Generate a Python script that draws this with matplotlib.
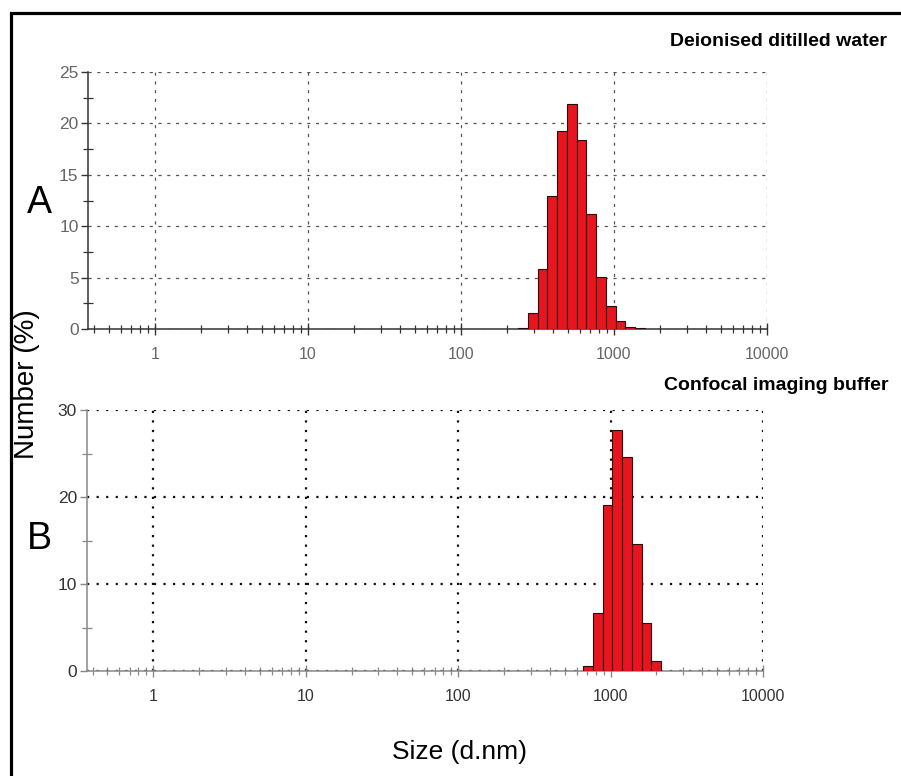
import numpy as np
import matplotlib.pyplot as plt
from matplotlib.patches import Rectangle
from matplotlib.ticker import LogLocator, MultipleLocator, FixedLocator

plt.rcParams['font.family'] = ['Liberation Sans', 'DejaVu Sans']

# DLS size classes (d.nm) and number distribution (%)
sizes_water = [255.0, 295.3, 342.0, 396.1, 458.7, 531.2, 615.1, 712.4, 825.0, 955.4, 1106, 1281, 1484]
number_water = [0.07, 1.6, 5.8, 12.9, 19.3, 21.9, 18.4, 11.2, 5.1, 2.2, 0.75, 0.23, 0.1]

sizes_buffer = [712.4, 825.0, 955.4, 1106, 1281, 1484, 1718, 1990]
number_buffer = [0.6, 6.7, 19.1, 27.7, 24.6, 14.6, 5.5, 1.1]

decade_ticks = [1, 10, 100, 1000, 10000]
decade_labels = ['1', '10', '100', '1000', '10000']

bar_color = '#e8151f'
class_ratio = 1.1583  # ratio between neighbouring size classes

fig = plt.figure(figsize=(9.01, 7.76), dpi=100)
W, H = 901, 776


def panel(x0, y_top, x1, y_bot):
    return fig.add_axes([x0 / W, 1 - y_bot / H, (x1 - x0) / W, (y_bot - y_top) / H])


def draw_hist(ax, sizes, values):
    s = np.array(sizes, dtype=float)
    left = s / np.sqrt(class_ratio)
    right = s * np.sqrt(class_ratio)
    ax.bar(left, values, width=right - left, align='edge', color=bar_color,
           edgecolor='#2a0a0a', linewidth=0.8, zorder=3)


def style_axes(ax, ymax, ymajor, axis_color, label_color, grid_style, grid_color, grid_lw):
    ax.set_xscale('log')
    ax.set_xlim(0.366, 10000)
    ax.set_ylim(0, ymax)
    for side in ['top', 'right']:
        ax.spines[side].set_visible(False)
    for side in ['left', 'bottom']:
        ax.spines[side].set_color(axis_color)
        ax.spines[side].set_linewidth(1.1)
    ax.xaxis.set_major_locator(FixedLocator(decade_ticks))
    ax.set_xticklabels(decade_labels)
    ax.xaxis.set_minor_locator(LogLocator(base=10, subs=np.arange(2, 10), numticks=20))
    ax.xaxis.set_minor_formatter(plt.NullFormatter())
    ax.yaxis.set_major_locator(MultipleLocator(ymajor))
    ax.yaxis.set_minor_locator(MultipleLocator(ymajor / 2))
    ax.tick_params(axis='x', which='both', direction='inout', color=axis_color,
                   labelsize=11.5, labelcolor=label_color, pad=9)
    ax.tick_params(axis='x', which='major', length=8, width=1)
    ax.tick_params(axis='x', which='minor', length=6, width=0.9)
    ax.tick_params(axis='y', which='major', direction='out', length=5, width=1,
                   color=axis_color, labelsize=12.5, labelcolor=label_color, pad=2)
    ax.tick_params(axis='y', which='minor', direction='inout', length=7, width=0.9,
                   color=axis_color)
    ax.grid(True, which='major', linestyle=grid_style, color=grid_color,
            linewidth=grid_lw, zorder=1)
    ax.set_axisbelow(True)


# Upper panel: deionised water
ax1 = panel(88.3, 72, 766.7, 329)
draw_hist(ax1, sizes_water, number_water)
style_axes(ax1, 25, 5, '#333333', '#666666', (0, (2.5, 4.5)), '#555555', 0.9)

# Lower panel: imaging buffer
ax2 = panel(86.7, 410, 763, 671)
draw_hist(ax2, sizes_buffer, number_buffer)
style_axes(ax2, 30, 10, '#888888', '#333333', (0, (1, 3.3)), '#111111', 1.6)

fig.text(887 / W, 1 - 42 / H, 'Deionised ditilled water', ha='right', va='center',
         fontsize=14, fontweight='bold')
fig.text(888 / W, 1 - 385 / H, 'Confocal imaging buffer', ha='right', va='center',
         fontsize=14, fontweight='bold')

fig.text(39 / W, 1 - 203 / H, 'A', ha='center', va='center', fontsize=27)
fig.text(39 / W, 1 - 539 / H, 'B', ha='center', va='center', fontsize=27)

fig.text(27 / W, 1 - 384 / H, 'Number (%)', ha='center', va='center',
         rotation=90, fontsize=20)
fig.text(460 / W, 1 - 752 / H, 'Size (d.nm)', ha='center', va='center', fontsize=19)

# frame around the figure
fig.patches.append(Rectangle((10.5 / W, -0.1), 1.2, 1.1 - 13.5 / H,
                             transform=fig.transFigure, fill=False,
                             edgecolor='black', linewidth=2.3))

fig.savefig('out.png', dpi=100)
